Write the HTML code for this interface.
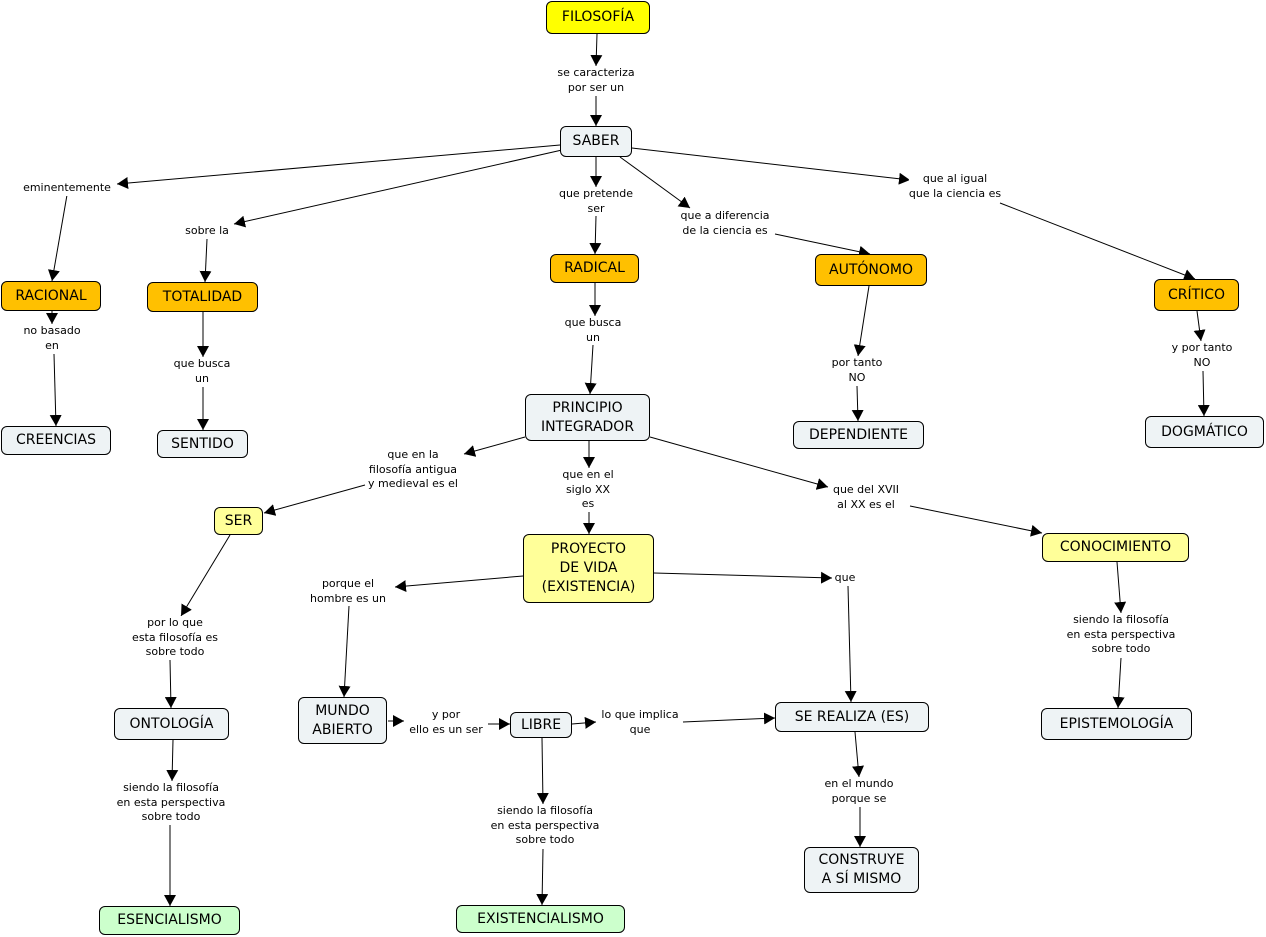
<!DOCTYPE html>
<html><head><meta charset="utf-8"><style>
body{margin:0;width:1266px;height:937px;background:#fff;position:relative;overflow:hidden;font-family:Verdana,"DejaVu Sans",sans-serif}
.n{position:absolute;box-sizing:border-box;border:1px solid #000;border-radius:6px;display:flex;align-items:center;justify-content:center;text-align:center;font-size:14px;line-height:19px;color:#000}
.y{background:#ffff00}.o{background:#ffc000}.p{background:#eef3f5}.l{background:#ffff99}.g{background:#ccffcc}
.t{position:absolute;font-size:11px;line-height:14.5px;text-align:center;transform:translateX(-50%);white-space:nowrap;background:#fff}
svg{position:absolute;left:0;top:0}
</style></head><body>
<svg width="1266" height="937"><defs><marker id="a" markerWidth="12" markerHeight="12" refX="11" refY="6" orient="auto" markerUnits="userSpaceOnUse"><path d="M0,0 L11,6 L0,12 z" fill="#000"/></marker></defs>
<g stroke="#000" stroke-width="1" marker-end="url(#a)">
<line x1="597" y1="34" x2="596" y2="66"/><line x1="596" y1="96" x2="596" y2="126"/>
<line x1="560" y1="145" x2="117" y2="184"/><line x1="67" y1="195" x2="52" y2="281"/>
<line x1="562" y1="150" x2="234" y2="224"/><line x1="207" y1="239" x2="205" y2="282"/>
<line x1="596" y1="157" x2="596" y2="187"/><line x1="596" y1="216" x2="595" y2="254"/>
<line x1="620" y1="157" x2="690" y2="208"/><line x1="775" y1="234" x2="870" y2="254"/>
<line x1="632" y1="148" x2="910" y2="180"/><line x1="1000" y1="203" x2="1195" y2="279"/>
<line x1="52" y1="311" x2="52" y2="324"/><line x1="54" y1="354" x2="56" y2="426"/>
<line x1="203" y1="312" x2="203" y2="357"/><line x1="203" y1="387" x2="203" y2="430"/>
<line x1="595" y1="283" x2="595" y2="316"/><line x1="593" y1="345" x2="590" y2="394"/>
<line x1="869" y1="286" x2="858" y2="356"/><line x1="857" y1="386" x2="858" y2="421"/>
<line x1="1197" y1="311" x2="1201" y2="341"/><line x1="1203" y1="371" x2="1204" y2="416"/>
<line x1="525" y1="437" x2="464" y2="454"/><line x1="365" y1="485" x2="264" y2="513"/>
<line x1="589" y1="441" x2="589" y2="468"/><line x1="589" y1="512" x2="589" y2="534"/>
<line x1="650" y1="437" x2="828" y2="487"/><line x1="910" y1="506" x2="1042" y2="533"/>
<line x1="230" y1="535" x2="181" y2="616"/><line x1="170" y1="660" x2="171" y2="708"/>
<line x1="523" y1="576" x2="395" y2="587"/><line x1="349" y1="606" x2="344" y2="697"/>
<line x1="654" y1="573" x2="832" y2="578"/><line x1="848" y1="586" x2="851" y2="702"/>
<line x1="1117" y1="562" x2="1121" y2="613"/><line x1="1121" y1="658" x2="1118" y2="708"/>
<line x1="173" y1="740" x2="172" y2="781"/><line x1="170" y1="825" x2="170" y2="906"/>
<line x1="388" y1="721" x2="404" y2="721"/><line x1="488" y1="724" x2="510" y2="724"/>
<line x1="572" y1="724" x2="596" y2="722"/><line x1="683" y1="722" x2="775" y2="718"/>
<line x1="542" y1="738" x2="543" y2="804"/><line x1="543" y1="849" x2="542" y2="905"/>
<line x1="855" y1="732" x2="859" y2="777"/><line x1="860" y1="807" x2="860" y2="847"/>
</g></svg>
<div class="n y" style="left:546px;top:1px;width:104px;height:33px">FILOSOFÍA</div>
<div class="n p" style="left:560px;top:126px;width:72px;height:31px">SABER</div>
<div class="n o" style="left:1px;top:281px;width:100px;height:30px">RACIONAL</div>
<div class="n o" style="left:147px;top:282px;width:111px;height:30px">TOTALIDAD</div>
<div class="n o" style="left:550px;top:254px;width:89px;height:29px">RADICAL</div>
<div class="n o" style="left:815px;top:254px;width:112px;height:32px">AUTÓNOMO</div>
<div class="n o" style="left:1154px;top:279px;width:85px;height:32px">CRÍTICO</div>
<div class="n p" style="left:1px;top:426px;width:110px;height:29px">CREENCIAS</div>
<div class="n p" style="left:157px;top:430px;width:91px;height:28px">SENTIDO</div>
<div class="n p" style="left:525px;top:394px;width:125px;height:47px">PRINCIPIO<br>INTEGRADOR</div>
<div class="n p" style="left:793px;top:421px;width:131px;height:28px">DEPENDIENTE</div>
<div class="n p" style="left:1145px;top:416px;width:119px;height:32px">DOGMÁTICO</div>
<div class="n l" style="left:214px;top:507px;width:49px;height:28px">SER</div>
<div class="n l" style="left:523px;top:534px;width:131px;height:69px">PROYECTO<br>DE VIDA<br>(EXISTENCIA)</div>
<div class="n l" style="left:1042px;top:533px;width:147px;height:29px">CONOCIMIENTO</div>
<div class="n p" style="left:114px;top:708px;width:115px;height:32px">ONTOLOGÍA</div>
<div class="n p" style="left:298px;top:697px;width:89px;height:47px">MUNDO<br>ABIERTO</div>
<div class="n p" style="left:510px;top:712px;width:62px;height:26px">LIBRE</div>
<div class="n p" style="left:775px;top:702px;width:154px;height:30px">SE REALIZA (ES)</div>
<div class="n p" style="left:1041px;top:708px;width:151px;height:32px">EPISTEMOLOGÍA</div>
<div class="n p" style="left:804px;top:847px;width:115px;height:46px">CONSTRUYE<br>A SÍ MISMO</div>
<div class="n g" style="left:99px;top:906px;width:141px;height:29px">ESENCIALISMO</div>
<div class="n g" style="left:456px;top:905px;width:169px;height:28px">EXISTENCIALISMO</div>

<div class="t" style="left:596px;top:66px">se caracteriza<br>por ser un</div>
<div class="t" style="left:67px;top:181px">eminentemente</div>
<div class="t" style="left:207px;top:224px">sobre la</div>
<div class="t" style="left:596px;top:187px">que pretende<br>ser</div>
<div class="t" style="left:725px;top:209px">que a diferencia<br>de la ciencia es</div>
<div class="t" style="left:955px;top:172px">que al igual<br>que la ciencia es</div>
<div class="t" style="left:52px;top:324px">no basado<br>en</div>
<div class="t" style="left:202px;top:357px">que busca<br>un</div>
<div class="t" style="left:593px;top:316px">que busca<br>un</div>
<div class="t" style="left:857px;top:356px">por tanto<br>NO</div>
<div class="t" style="left:1202px;top:341px">y por tanto<br>NO</div>
<div class="t" style="left:413px;top:448px">que en la<br>filosofía antigua<br>y medieval es el</div>
<div class="t" style="left:588px;top:468px">que en el<br>siglo XX<br>es</div>
<div class="t" style="left:866px;top:483px">que del XVII<br>al XX es el</div>
<div class="t" style="left:348px;top:577px">porque el<br>hombre es un</div>
<div class="t" style="left:845px;top:571px">que</div>
<div class="t" style="left:175px;top:616px">por lo que<br>esta filosofía es<br>sobre todo</div>
<div class="t" style="left:1121px;top:613px">siendo la filosofía<br>en esta perspectiva<br>sobre todo</div>
<div class="t" style="left:446px;top:708px">y por<br>ello es un ser</div>
<div class="t" style="left:640px;top:708px">lo que implica<br>que</div>
<div class="t" style="left:171px;top:781px">siendo la filosofía<br>en esta perspectiva<br>sobre todo</div>
<div class="t" style="left:545px;top:804px">siendo la filosofía<br>en esta perspectiva<br>sobre todo</div>
<div class="t" style="left:859px;top:777px">en el mundo<br>porque se</div>
</body></html>
